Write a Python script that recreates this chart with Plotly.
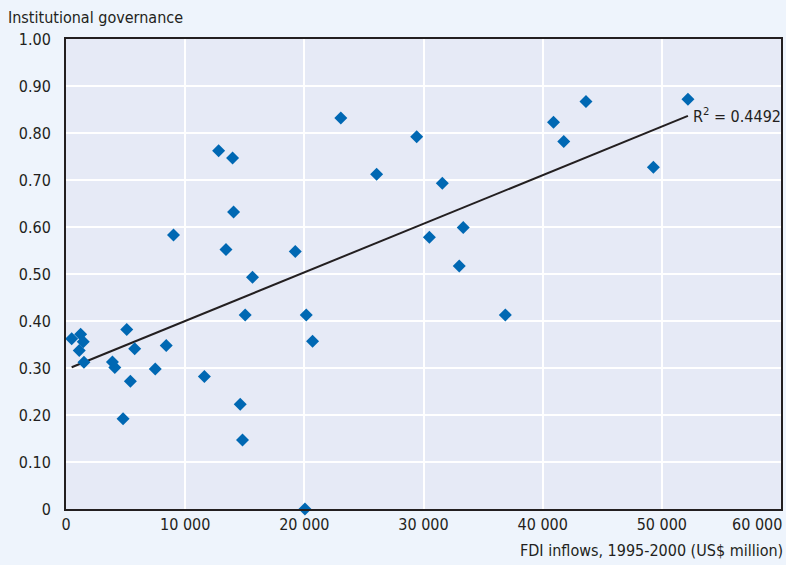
import plotly.graph_objects as go

# FDI inflows 1995-2000 (US$ million) and institutional governance index
fdi = [476, 1228, 1448, 1114, 1504, 5096, 5764, 3898, 4094, 5401, 8410, 7491,
       11612, 4790, 15038, 14620, 14814, 12810, 13977, 14060, 13424, 15650,
       19240, 20160, 20690, 23060, 29430, 26065, 31580, 30493, 33333, 33000,
       9022, 36868, 40910, 43634, 41771, 49290, 52189, 20050]
gov = [0.362, 0.372, 0.356, 0.337, 0.312, 0.382, 0.341, 0.313, 0.301, 0.272,
       0.348, 0.298, 0.282, 0.192, 0.413, 0.223, 0.147, 0.762, 0.747, 0.632,
       0.552, 0.493, 0.548, 0.413, 0.357, 0.832, 0.792, 0.712, 0.693, 0.578,
       0.599, 0.517, 0.583, 0.413, 0.823, 0.867, 0.782, 0.727, 0.872, 0.0]

trend_intercept = 0.2967
trend_slope = 1.034e-5
r2_label = "R<sup>2</sup> = 0.4492"

x_ticks = [0, 10000, 20000, 30000, 40000, 50000]
x_ticktext = ["0", "10 000", "20 000", "30 000", "40 000", "50 000"]
x_last_tick = 60000
x_last_ticktext = "60 000"
y_ticks = [0, 0.1, 0.2, 0.3, 0.4, 0.5, 0.6, 0.7, 0.8, 0.9, 1.0]
y_ticktext = ["0", "0.10", "0.20", "0.30", "0.40", "0.50", "0.60", "0.70",
              "0.80", "0.90", "1.00"]

FONT = "DejaVu Sans Condensed, Liberation Sans Narrow, Arial Narrow, sans-serif"
INK = "#231F20"

tx = [min(fdi), max(fdi)]
ty = [trend_intercept + trend_slope * v for v in tx]

fig = go.Figure()
fig.add_trace(go.Scatter(x=tx, y=ty, mode="lines",
                         line=dict(color=INK, width=2), hoverinfo="skip"))
fig.add_trace(go.Scatter(x=fdi, y=gov, mode="markers", cliponaxis=False,
                         marker=dict(symbol="diamond", size=10, color="#0068B3",
                                     line=dict(width=0))))

fig.add_annotation(x=tx[1], y=ty[1], xref="x", yref="y", text=r2_label,
                   showarrow=False, xanchor="left", yanchor="middle", xshift=3,
                   font=dict(family=FONT, size=16, color=INK))
fig.add_annotation(x=0, y=1, xref="paper", yref="paper", xanchor="left",
                   yanchor="bottom", text="Institutional governance",
                   showarrow=False, xshift=-60, yshift=10,
                   font=dict(family=FONT, size=16, color=INK))
fig.add_annotation(x=1, y=0, xref="paper", yref="paper", xanchor="right",
                   yanchor="top", text="FDI inflows, 1995-2000 (US$ million)",
                   showarrow=False, yshift=-30, xshift=4,
                   font=dict(family=FONT, size=16, color=INK))
# last x tick label, kept inside the page
fig.add_annotation(x=x_last_tick, y=0, xref="x", yref="paper", xanchor="right",
                   yanchor="top", text=x_last_ticktext, showarrow=False,
                   yshift=-4, xshift=3,
                   font=dict(family=FONT, size=16, color=INK))

fig.update_layout(
    width=786, height=565,
    margin=dict(l=66, r=3, t=39, b=56),
    paper_bgcolor="#EEF4FC", plot_bgcolor="#E6EAF6",
    showlegend=False,
    font=dict(family=FONT, size=16, color=INK),
)
fig.update_xaxes(range=[0, 60000], tickvals=x_ticks + [x_last_tick],
                 ticktext=x_ticktext + [""],
                 showgrid=True, gridcolor="white", gridwidth=2,
                 showline=True, linecolor=INK, linewidth=2, mirror=True,
                 ticks="", zeroline=False, ticklabelstandoff=0)
fig.update_yaxes(range=[0, 1.0], tickvals=y_ticks, ticktext=y_ticktext,
                 showgrid=True, gridcolor="white", gridwidth=2,
                 showline=True, linecolor=INK, linewidth=2, mirror=True,
                 ticks="", zeroline=False, ticklabelstandoff=10)

fig.write_html("out.html")
